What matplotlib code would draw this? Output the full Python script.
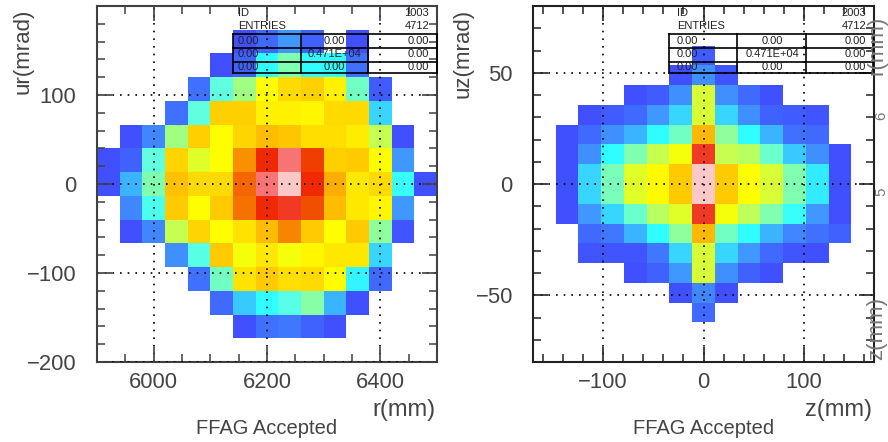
import numpy as np
import matplotlib
matplotlib.use("Agg")
import matplotlib.pyplot as plt
from matplotlib.colors import LinearSegmentedColormap
from matplotlib.lines import Line2D
from matplotlib.ticker import MultipleLocator

W, H = 888, 442
_ = np.nan

# cell levels, top row first
r_ur = [
    [_, _, _, _, _, _, _, _, _, _, _, _, _, _, _],
    [_, _, _, _, _, _, 10, 14, 20, 13, _, 10, _, _, _],
    [_, _, _, _, _, 10, 13, 30, 40, 30, 30, 15, _, _, _],
    [_, _, _, _, 15, 35, 45, 60, 68, 70, 63, 38, 12, _, _],
    [_, _, _, 15, 35, 70, 70, 63, 63, 62, 68, 68, 26, _, _],
    [_, 10, 18, 45, 70, 60, 69, 74, 72, 67, 67, 64, 50, 10, _],
    [10, 13, 35, 69, 53, 60, 79, 90, 96, 87, 70, 71, 60, 20, _],
    [10, 23, 40, 73, 68, 68, 83, 96, 100, 90, 76, 65, 68, 31, 10],
    [_, 18, 33, 71, 60, 71, 82, 90, 92, 85, 74, 65, 62, 20, _],
    [_, 10, 18, 50, 69, 60, 66, 74, 80, 71, 60, 71, 42, 11, _],
    [_, _, _, 19, 34, 71, 57, 65, 57, 62, 65, 65, 26, _, _],
    [_, _, _, _, 15, 38, 66, 71, 67, 68, 60, 29, 14, _, _],
    [_, _, _, _, _, 14, 25, 30, 34, 41, 23, 10, _, _, _],
    [_, _, _, _, _, _, 10, 15, 16, 13, 10, _, _, _, _],
    [_, _, _, _, _, _, _, _, _, _, _, _, _, _, _],
]
z_uz = [
    [_, _, _, _, _, _, _, _, _, _, _, _, _, _, _],
    [_, _, _, _, _, _, _, _, _, _, _, _, _, _, _],
    [_, _, _, _, _, _, _, 12, _, _, _, _, _, _, _],
    [_, _, _, _, _, _, 10, 19, 11, _, _, _, _, _, _],
    [_, _, _, _, 10, 12, 19, 52, 19, 14, 10, _, _, _, _],
    [_, _, 10, 12, 14, 20, 26, 52, 26, 19, 13, 12, 11, _, _],
    [_, 10, 14, 19, 23, 30, 38, 75, 42, 30, 23, 15, 14, _, _],
    [_, 10, 19, 30, 40, 50, 57, 92, 50, 48, 37, 25, 19, 10, _],
    [_, 10, 26, 39, 53, 61, 71, 100, 71, 60, 52, 40, 28, 10, _],
    [_, 10, 26, 39, 53, 61, 71, 100, 71, 60, 52, 40, 28, 10, _],
    [_, 10, 20, 26, 37, 48, 53, 92, 57, 49, 40, 31, 20, 10, _],
    [_, _, 14, 16, 23, 30, 42, 75, 38, 30, 23, 18, 15, 13, _],
    [_, _, 11, 11, 11, 16, 26, 52, 26, 20, 14, 11, 10, _, _],
    [_, _, _, _, 10, 13, 20, 52, 19, 13, 10, _, _, _, _],
    [_, _, _, _, _, _, 10, 18, 10, _, _, _, _, _, _],
    [_, _, _, _, _, _, _, 14, _, _, _, _, _, _, _],
    [_, _, _, _, _, _, _, _, _, _, _, _, _, _, _],
    [_, _, _, _, _, _, _, _, _, _, _, _, _, _, _],
]

r_ticks = [6000, 6200, 6400]
ur_ticks = [-200, -100, 0, 100]
z_ticks = [-100, 0, 100]
uz_ticks = [-50, 0, 50]

stats_left = ["ID", "ENTRIES", "1003", "4712"]
stats_right = ["ID", "ENTRIES", "2003", "4712"]
cell_text = [["0.00", "0.00", "0.00"], ["0.00", "0.471E+04", "0.00"], ["0.00", "0.00", "0.00"]]

levels = [10, 15, 20, 25, 30, 35, 40, 45, 50, 55, 60, 65, 70, 75, 80, 85, 90, 93, 96, 100]
colors = ["#4050ff", "#3f70ff", "#3f98ff", "#38ccff", "#30ffff", "#60ffe0", "#80ffb0",
          "#a0ff80", "#c8ff50", "#f0ff10", "#ffff00", "#ffe800", "#ffd000", "#ffb800",
          "#f88800", "#f05000", "#f02800", "#f04030", "#f87070", "#ffc8c8"]
cmap = LinearSegmentedColormap.from_list("paw", [((l - 10) / 90, c) for l, c in zip(levels, colors)])

plt.rcParams['font.family'] = ['Liberation Sans', 'DejaVu Sans']
fig = plt.figure(figsize=(W / 100, H / 100), dpi=100)


def fx(px):
    return px / W


def fy(py):
    return 1 - py / H


def panel(x0, x1, vals, xlim, ylim, xticks, yticks, xminor, yminor, ypad, edge):
    ax = fig.add_axes([fx(x0), fy(362), fx(x1 - x0), fy(6) - fy(362)])
    vals = np.array(vals, dtype=float)[::-1]
    xe = np.linspace(xlim[0], xlim[1], vals.shape[1] + 1)
    ye = np.linspace(ylim[0], ylim[1], vals.shape[0] + 1)
    ax.pcolormesh(xe, ye, vals, cmap=cmap, vmin=10, vmax=100)
    ax.set_xlim(xlim)
    ax.set_ylim(ylim)
    ax.set_xticks(xticks)
    ax.set_yticks(yticks)
    ax.xaxis.set_minor_locator(MultipleLocator(xminor))
    ax.yaxis.set_minor_locator(MultipleLocator(yminor))
    ax.tick_params(which='major', direction='in', top=True, right=True, length=11, width=1.2,
                   color=edge, labelsize=15.8, labelcolor='#444444')
    ax.tick_params(which='minor', direction='in', top=True, right=True, length=5.8, width=1.1, color=edge)
    ax.tick_params(axis='x', which='major', pad=7)
    ax.tick_params(axis='y', which='major', pad=ypad)
    ax.set_axisbelow(False)
    ax.grid(True, which='major', color='black', linewidth=1.2, linestyle=(0, (1, 3.6)))
    for s in ax.spines.values():
        s.set_color(edge)
        s.set_linewidth(1.5)
    return ax


panel(97, 437, r_ur, (5900, 6500), (-200, 200), r_ticks, ur_ticks, 50, 20, 15, '#404040')
panel(533, 874, z_uz, (-170, 170), (-80, 80), z_ticks, uz_ticks, 20, 10, 14.5, '#222222')


def stats_box(x_lines, x_text, x_mid, x_end, head):
    ys = [33.5, 47.5, 61.5, 73]
    for y in ys:
        fig.add_artist(Line2D([fx(x_lines[0]), fx(x_lines[-1])], [fy(y), fy(y)], color='black', lw=1.2))
    for x in x_lines:
        fig.add_artist(Line2D([fx(x), fx(x)], [fy(ys[0]), fy(ys[-1])], color='black', lw=1.2))
    fig.text(fx(x_text), fy(12.5), head[0], fontsize=8, va='center', color='#222222')
    fig.text(fx(x_text), fy(26), head[1], fontsize=8, va='center', color='#222222')
    fig.text(fx(x_end), fy(12.5), head[2], fontsize=8, va='center', ha='right', color='#222222')
    fig.text(fx(x_end), fy(26), head[3], fontsize=8, va='center', ha='right', color='#222222')
    for row, py in zip(cell_text, [40.5, 54, 67.5]):
        fig.text(fx(x_text), fy(py), row[0], fontsize=8, va='center', color='#222222')
        fig.text(fx(x_mid), fy(py), row[1], fontsize=8, va='center', ha='center', color='#222222')
        fig.text(fx(x_end), fy(py), row[2], fontsize=8, va='center', ha='right', color='#222222')


stats_box([233, 301, 368, 437], 238, 334, 429, stats_left)
stats_box([669, 737, 806, 873], 677, 772, 866, stats_right)

# axis titles placed by hand, same as the original layout
gray = '#444444'
fig.text(fx(23), fy(51), "ur(mrad)", rotation=90, fontsize=16, ha='center', va='center', color=gray)
fig.text(fx(463), fy(53), "uz(mrad)", rotation=90, fontsize=16, ha='center', va='center', color=gray)
fig.text(fx(435), fy(410), "r(mm)", fontsize=17, ha='right', va='center', color=gray)
fig.text(fx(872), fy(410), "z(mm)", fontsize=17, ha='right', va='center', color=gray)
fig.text(fx(266.5), fy(428), "FFAG Accepted", fontsize=14.5, ha='center', va='center', color=gray)
fig.text(fx(704), fy(428), "FFAG Accepted", fontsize=14.5, ha='center', va='center', color=gray)

# labels at the right edge, cut off in the source, pulled in just enough to fit
edge_gray = '#777777'
fig.text(fx(877), fy(45), "r(mm)", rotation=90, fontsize=16, ha='center', va='center', color=edge_gray)
fig.text(fx(877), fy(328), "z(mm)", rotation=90, fontsize=16, ha='center', va='center', color=edge_gray)
fig.text(fx(881), fy(116), "6", rotation=90, fontsize=11, ha='center', va='center', color=edge_gray)
fig.text(fx(881), fy(192), "5", rotation=90, fontsize=11, ha='center', va='center', color=edge_gray)

fig.savefig("out.png", dpi=100)
